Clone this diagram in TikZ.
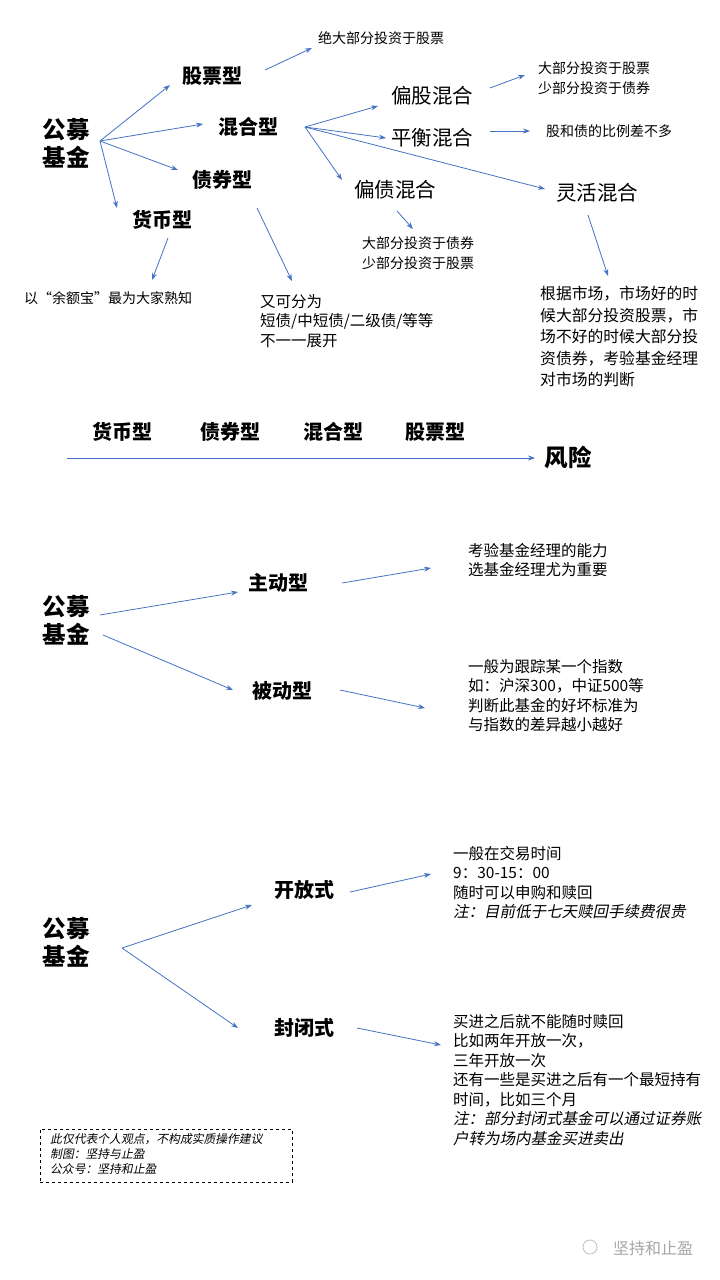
\documentclass[tikz,border=0pt]{standalone}
\usepackage{fontspec}
\setmainfont{Noto Sans CJK SC}
\newfontfamily\cjki[FakeSlant=0.2]{Noto Sans CJK SC}
\usetikzlibrary{arrows.meta}
\definecolor{ab}{HTML}{4472C4}
\tikzset{
 ar/.style={draw=ab,line width=0.8pt,-{Stealth[length=7pt,width=5pt]}},
 big/.style={font=\bfseries\fontsize{23.5}{28}\selectfont,align=center,inner sep=0},
 mid/.style={font=\bfseries\fontsize{20}{23}\selectfont,inner sep=0},
 sub/.style={font=\fontsize{20.5}{23}\selectfont,inner sep=0},
 txt/.style={font=\fontsize{14}{19.5}\selectfont,align=left,inner sep=0},
 txtb/.style={font=\fontsize{15.5}{19.5}\selectfont,align=left,inner sep=0},
 note/.style={font=\cjki\fontsize{11.8}{15}\selectfont,align=left,inner sep=0}
}
\begin{document}
\begin{tikzpicture}[x=1pt,y=-1pt]
\useasboundingbox[fill=white] (0,0) rectangle (720,1280);
% section 1
\node[big] (pm1) at (66,143) {公募\\基金};
\node[mid] (gp) at (212,76) {股票型};
\node[mid] (hh) at (248,127) {混合型};
\node[mid] (zq) at (222,180) {债券型};
\node[mid] (hb) at (162,220) {货币型};
\coordinate (s1) at (100,141);
\coordinate (e1) at (170,85); \coordinate (e2) at (203,124);
\coordinate (e3) at (178,170); \coordinate (e4) at (117,208);
\draw[ar] (s1) -- (e1); \draw[ar] (s1) -- (e2); \draw[ar] (s1) -- (e3); \draw[ar] (s1) -- (e4);
\node[txt,anchor=west] (t1) at (318,38) {绝大部分投资于股票};
\coordinate (a1) at (265,70); \coordinate (b1) at (312,48); \draw[ar] (a1) -- (b1);
\node[sub] (pg) at (432,96) {偏股混合};
\node[sub] (ph) at (432,138) {平衡混合};
\node[sub] (pz) at (395,190) {偏债混合};
\node[sub] (lh) at (597,193) {灵活混合};
\coordinate (s2) at (305,127);
\coordinate (f1) at (378,106); \coordinate (f2) at (386,138);
\coordinate (f3) at (342,180); \coordinate (f4) at (545,189);
\draw[ar] (s2) -- (f1); \draw[ar] (s2) -- (f2); \draw[ar] (s2) -- (f3); \draw[ar] (s2) -- (f4);
\coordinate (a2) at (490,88); \coordinate (b2) at (525,75); \draw[ar] (a2) -- (b2);
\node[txt,anchor=west] (t2) at (538,78) {大部分投资于股票\\少部分投资于债券};
\coordinate (a3) at (490,131); \coordinate (b3) at (530,131); \draw[ar] (a3) -- (b3);
\node[txt,anchor=west] (t3) at (546,131) {股和债的比例差不多};
\coordinate (a4) at (397,211); \coordinate (b4) at (413,229); \draw[ar] (a4) -- (b4);
\node[txt,anchor=west] (t4) at (362,253) {大部分投资于债券\\少部分投资于股票};
\coordinate (a5) at (588,215); \coordinate (b5) at (608,276); \draw[ar] (a5) -- (b5);
\node[txtb,anchor=north west,font=\fontsize{15.8}{21.5}\selectfont] (t5) at (540,286) {根据市场，市场好的时\\候大部分投资股票，市\\场不好的时候大部分投\\资债券，考验基金经理\\对市场的判断};
\coordinate (a6) at (168,238); \coordinate (b6) at (152,280); \draw[ar] (a6) -- (b6);
\node[txt,anchor=west] (t6) at (24,298) {以“余额宝”最为大家熟知};
\coordinate (a7) at (257,208); \coordinate (b7) at (292,281); \draw[ar] (a7) -- (b7);
\node[txtb,anchor=north west] (t7) at (260,294) {又可分为\\短债/中短债/二级债/等等\\不一一展开};
% section 2
\node[mid] (r1) at (122,432) {货币型};
\node[mid] (r2) at (230,432) {债券型};
\node[mid] (r3) at (333,432) {混合型};
\node[mid] (r4) at (435,432) {股票型};
\node[big] (fx) at (568,457) {风险};
\coordinate (a8) at (67,458); \coordinate (b8) at (535,458); \draw[ar] (a8) -- (b8);
% section 3
\node[big] (pm2) at (66,620) {公募\\基金};
\node[mid] (zd) at (278,583) {主动型};
\node[mid] (bd) at (282,691) {被动型};
\coordinate (a9) at (100,615); \coordinate (b9) at (238,592); \draw[ar] (a9) -- (b9);
\coordinate (a10) at (103,635); \coordinate (b10) at (233,690); \draw[ar] (a10) -- (b10);
\coordinate (a11) at (342,583); \coordinate (b11) at (431,568); \draw[ar] (a11) -- (b11);
\coordinate (a12) at (340,690); \coordinate (b12) at (425,708); \draw[ar] (a12) -- (b12);
\node[txtb,anchor=north west] (t8) at (468,543) {考验基金经理的能力\\选基金经理尤为重要};
\node[txtb,anchor=north west] (t9) at (468,659) {一般为跟踪某一个指数\\如：沪深300，中证500等\\判断此基金的好坏标准为\\与指数的差异越小越好};
% section 4
\node[big] (pm3) at (66,942) {公募\\基金};
\node[mid] (kf) at (304,890) {开放式};
\node[mid] (fb) at (304,1028) {封闭式};
\coordinate (s4) at (122,948);
\coordinate (c1) at (252,905); \coordinate (c2) at (238,1028);
\draw[ar] (s4) -- (c1); \draw[ar] (s4) -- (c2);
\coordinate (a13) at (350,892); \coordinate (b13) at (431,874); \draw[ar] (a13) -- (b13);
\coordinate (a14) at (357,1028); \coordinate (b14) at (441,1045); \draw[ar] (a14) -- (b14);
\node[txtb,anchor=north west] (t10) at (453,846) {一般在交易时间\\9：30-15：00\\随时可以申购和赎回\\{\cjki 注：目前低于七天赎回手续费很贵}};
\node[txtb,anchor=north west] (t11) at (453,1014) {买进之后就不能随时赎回\\比如两年开放一次，\\三年开放一次\\还有一些是买进之后有一个最短持有\\时间，比如三个月\\{\cjki 注：部分封闭式基金可以通过证券账}\\{\cjki 户转为场内基金买进卖出}};
\node[draw,dashed,line width=0.6pt,minimum width=252pt,minimum height=53pt,anchor=north west] (box) at (40,1129) {};
\node[note,anchor=north west] (t12) at (50,1133) {此仅代表个人观点，不构成实质操作建议\\制图：坚持与止盈\\公众号：坚持和止盈};
\node[circle,draw=gray!50,line width=0.8pt,minimum size=14pt,inner sep=0] (ic) at (590,1247) {};
\node[font=\fontsize{16}{18}\selectfont,text=gray!70,inner sep=0] (wm) at (653,1248) {坚持和止盈};
\end{tikzpicture}
\end{document}
